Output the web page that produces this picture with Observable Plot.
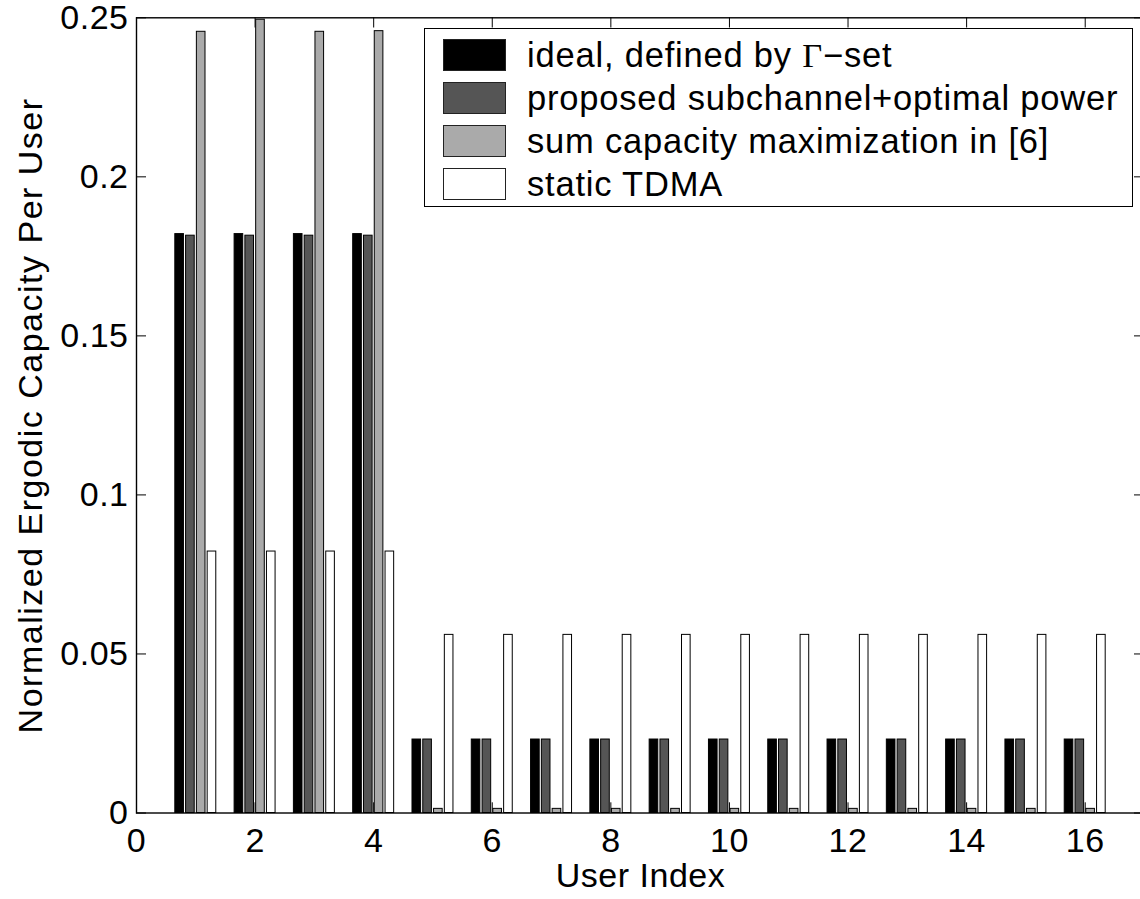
<!DOCTYPE html>
<html><head><meta charset="utf-8">
<script src="https://cdn.jsdelivr.net/npm/d3@7"></script>
<script src="https://cdn.jsdelivr.net/npm/@observablehq/plot@0.6"></script>
<style>
html,body{margin:0;padding:0;background:#fff;overflow:hidden}
#wrap{position:relative;width:1140px;height:899px;font-family:"Liberation Sans",Arial,Helvetica,sans-serif}
#legend{position:absolute;left:424px;top:28px;width:709px;height:179px;border:1.3px solid #000;background:#fff;box-sizing:border-box}
.sw{position:absolute;left:18px;width:63px;height:32px;border:1px solid #222;box-sizing:border-box}
.lab{position:absolute;left:102px;height:32px;font-size:34.5px;letter-spacing:0.8px;white-space:nowrap;line-height:32px;color:#000}
.gam{font-family:"Liberation Serif","DejaVu Serif",serif}
.ylab text{letter-spacing:1.5px}
</style></head>
<body><div id="wrap"></div>
<script>
// ---- data ----
const users = [1,2,3,4,5,6,7,8,9,10,11,12,13,14,15,16];
const ideal    = [0.182,0.182,0.182,0.182,0.0231,0.0231,0.0231,0.0231,0.0231,0.0231,0.0231,0.0231,0.0231,0.0231,0.0231,0.0231];
const proposed = [0.1815,0.1815,0.1815,0.1815,0.0231,0.0231,0.0231,0.0231,0.0231,0.0231,0.0231,0.0231,0.0231,0.0231,0.0231,0.0231];
const sumcap   = [0.2456,0.2494,0.2456,0.2458,0.0013,0.0013,0.0013,0.0013,0.0013,0.0013,0.0013,0.0013,0.0013,0.0013,0.0013,0.0013];
const tdma     = [0.0822,0.0822,0.0822,0.0822,0.056,0.056,0.056,0.056,0.056,0.056,0.056,0.056,0.056,0.056,0.056,0.056];
const seriesNames = ["ideal, defined by Γ−set","proposed subchannel+optimal power","sum capacity maximization in [6]","static TDMA"];
const seriesColors = ["#000000","#555555","#aaaaaa","#ffffff"];
const xTicks = [0,2,4,6,8,10,12,14,16];
const yTicks = [0,0.05,0.1,0.15,0.2,0.25];
const yTickLabels = ["0","0.05","0.1","0.15","0.2","0.25"];

const seriesValues = [ideal, proposed, sumcap, tdma];
const nS = seriesValues.length;
const groupW = Math.min(0.8, nS/(nS+1.5));
const barW = groupW / nS * 0.8;
const rows = [];
seriesValues.forEach((vals, k) => {
  const off = (k - (nS-1)/2) * groupW / nS;
  users.forEach((u, i) => rows.push({user:u, k, value:vals[i], x1:u+off-barW/2, x2:u+off+barW/2}));
});

const font = '"Liberation Sans",Arial,Helvetica,sans-serif';
const plot = Plot.plot({
  width:1140, height:899,
  marginLeft:136, marginRight:-4, marginTop:17.3, marginBottom:86.5,
  x:{domain:[0,17]},
  y:{domain:[0,0.25]},
  style:{fontFamily:font, fontSize:"34px", color:"#000", background:"transparent", letterSpacing:"0.5px"},
  marks:[
    Plot.tickX(xTicks, {x:d=>d, insetTop:785, stroke:"#000", strokeWidth:1}),
    Plot.tickX(xTicks, {x:d=>d, insetBottom:785, stroke:"#000", strokeWidth:1}),
    Plot.tickY(yTicks, {y:d=>d, insetRight:998, stroke:"#000", strokeWidth:1}),
    Plot.tickY(yTicks, {y:d=>d, insetLeft:998, stroke:"#000", strokeWidth:1}),
    Plot.rect(rows, {x1:"x1", x2:"x2", y1:0, y2:"value", fill:d=>seriesColors[d.k], stroke:"#000", strokeWidth:1}),
    Plot.frame({stroke:"#000", strokeWidth:1.4}),
    Plot.axisX(xTicks, {anchor:"bottom", tickSize:0, tickPadding:15, label:null, tickFormat:d=>String(d), fontSize:34}),
    Plot.axisY(yTicks, {anchor:"left", tickSize:0, tickPadding:8, label:null, tickFormat:(d,i)=>yTickLabels[i], fontSize:34}),
    Plot.text(["User Index"], {frameAnchor:"bottom", dy:74, lineAnchor:"bottom", textAnchor:"middle", fontSize:34}),
    Plot.text(["Normalized Ergodic Capacity Per User"], {frameAnchor:"left", rotate:-90, dx:-95, dy:0, lineAnchor:"bottom", textAnchor:"middle", fontSize:34, className:"ylab"})
  ]
});
const wrap = document.getElementById("wrap");
wrap.appendChild(plot);

// legend
const leg = document.createElement("div");
leg.id = "legend";
seriesNames.forEach((name, k) => {
  const top = 9.7 + k*43.1;
  const sw = document.createElement("div");
  sw.className = "sw";
  sw.style.top = top + "px";
  sw.style.background = seriesColors[k];
  leg.appendChild(sw);
  const lab = document.createElement("div");
  lab.className = "lab";
  lab.style.top = top + "px";
  if (name.includes("Γ")) {
    const parts = name.split("Γ");
    lab.append(parts[0]);
    const g = document.createElement("span"); g.className = "gam"; g.textContent = "Γ";
    lab.append(g);
    lab.append(parts[1]);
  } else lab.textContent = name;
  leg.appendChild(lab);
});
wrap.appendChild(leg);
</script>
</body></html>
